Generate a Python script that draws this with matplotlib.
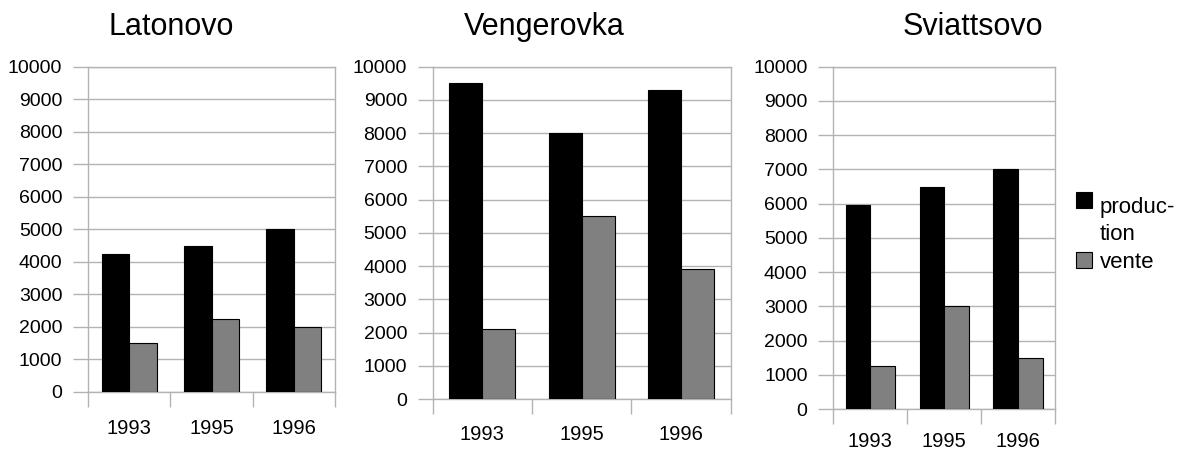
import matplotlib
matplotlib.use("Agg")
import matplotlib.pyplot as plt
import numpy as np
from matplotlib.patches import Rectangle

plt.rcParams['font.family'] = ['Liberation Sans', 'DejaVu Sans']

years = ["1993", "1995", "1996"]
titles = ["Latonovo", "Vengerovka", "Sviattsovo"]
production = {
    "Latonovo": [4250, 4500, 5000],
    "Vengerovka": [9500, 8000, 9300],
    "Sviattsovo": [5950, 6500, 7000],
}
vente = {
    "Latonovo": [1500, 2250, 2000],
    "Vengerovka": [2100, 5500, 3900],
    "Sviattsovo": [1250, 3000, 1500],
}
series_lines = [["produc-", "tion"], ["vente"]]
colors = ["#000000", "#808080"]

W, H = 1179, 453
fig = plt.figure(figsize=(W / 100, H / 100), dpi=100)

# axes boxes in pixels: left, right, top, bottom
boxes = [(88, 335, 66.7, 392), (432.7, 730.7, 66.7, 399), (833.3, 1055, 66.7, 409)]
title_x = [171.5, 544.5, 972.5]
xpads = [19.5, 18.5, 16.5]
grid_c = "#b3b3b3"

for i, name in enumerate(titles):
    l, r, t, b = boxes[i]
    ax = fig.add_axes([l / W, (H - b) / H, (r - l) / W, (b - t) / H])
    x = np.arange(len(years))
    w = 1 / 3
    ax.bar(x - w / 2, production[name], width=w, color=colors[0], edgecolor="black", linewidth=0.8, zorder=3)
    ax.bar(x + w / 2, vente[name], width=w, color=colors[1], edgecolor="black", linewidth=0.8, zorder=3)
    ax.set_xlim(-0.5, len(years) - 0.5)
    ax.set_ylim(0, 10000)
    ax.set_yticks(np.arange(0, 10001, 1000))
    ax.yaxis.grid(True, color=grid_c, linewidth=1, zorder=0)
    ax.set_axisbelow(True)
    for s in ax.spines.values():
        s.set_color(grid_c)
        s.set_linewidth(1)
    ax.tick_params(axis="y", length=11, width=1, color=grid_c, labelsize=14, pad=7.5)
    ax.set_xticks(x)
    ax.set_xticklabels(years)
    ax.tick_params(axis="x", which="major", length=0, labelsize=14.5, pad=xpads[i])
    ax.set_xticks(np.arange(-0.5, len(years), 1), minor=True)
    ax.tick_params(axis="x", which="minor", length=11, width=1, color=grid_c)
    fig.text(title_x[i] / W, (H - 35) / H, name, ha="center", va="baseline", fontsize=22)

# legend drawn manually (pixel positions)
sq_tops = [192, 252]
line_baselines = [[213, 240], [268]]
for k in range(2):
    fig.patches.append(Rectangle((1076 / W, (H - sq_tops[k] - 16) / H), 16 / W, 16 / H,
                                 transform=fig.transFigure, facecolor=colors[k],
                                 edgecolor="black", linewidth=0.8))
    for txt, yb in zip(series_lines[k], line_baselines[k]):
        fig.text(1100 / W, (H - yb) / H, txt, ha="left", va="baseline", fontsize=16)

fig.savefig("out.png", dpi=100)
